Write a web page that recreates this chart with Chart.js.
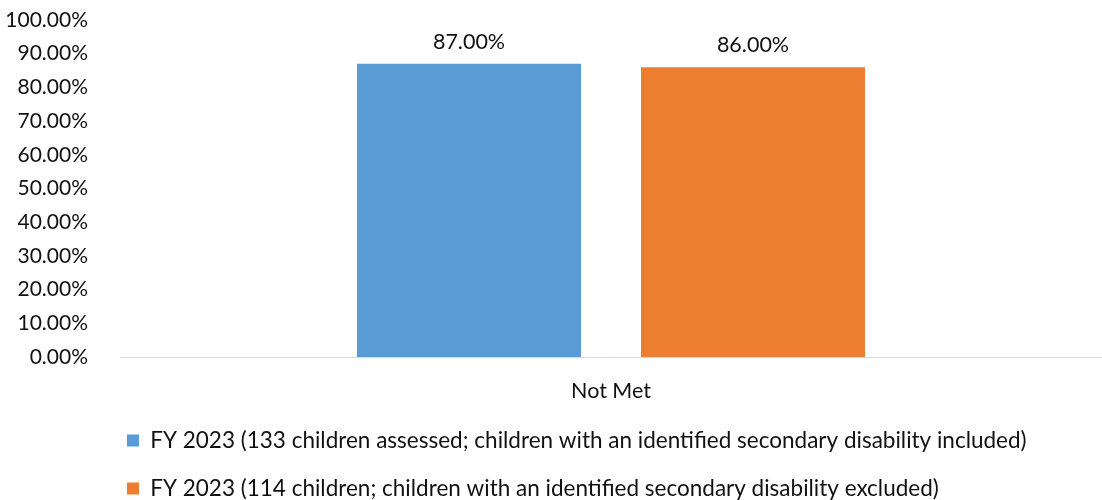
<!DOCTYPE html>
<html>
<head>
<meta charset="utf-8">
<script src="https://cdn.jsdelivr.net/npm/chart.js@4"></script>
<style>
  html, body { margin: 0; padding: 0; background: #fff; }
  #wrap { width: 1102px; height: 500px; }
</style>
</head>
<body>
<div id="wrap"><canvas id="c"></canvas></div>
<script>
const categories = ['Not Met'];
const seriesLabels = [
  'FY 2023 (133 children assessed; children with an identified secondary disability included)',
  'FY 2023 (114 children; children with an identified secondary disability excluded)'
];
const includedValues = [87];
const excludedValues = [86];
const seriesColors = ['#5B9BD5', '#ED7D31'];

const FONT = 'Lato, "Liberation Sans", sans-serif';
const TEXT = '#111';

// writes each bar's value above it
const valueLabels = {
  id: 'valueLabels',
  afterDatasetsDraw(chart) {
    const ctx = chart.ctx;
    ctx.save();
    ctx.font = '21.5px ' + FONT;
    ctx.fillStyle = TEXT;
    ctx.textAlign = 'center';
    ctx.textBaseline = 'middle';
    chart.data.datasets.forEach((ds, i) => {
      chart.getDatasetMeta(i).data.forEach((bar, j) => {
        ctx.fillText(ds.data[j].toFixed(2) + '%', bar.x, bar.y - 22);
      });
    });
    ctx.restore();
  }
};

// indents the legend rows so they start under the plot, and lifts them a little
const legendPlacement = {
  id: 'legendPlacement',
  afterUpdate(chart) {
    const lg = chart.legend;
    if (!lg) return;
    lg.left += 95.5;
    lg.top -= 21;
  }
};

new Chart(document.getElementById('c'), {
  type: 'bar',
  data: {
    labels: categories,
    datasets: [
      { label: seriesLabels[0], data: includedValues, backgroundColor: seriesColors[0] },
      { label: seriesLabels[1], data: excludedValues, backgroundColor: seriesColors[1] }
    ]
  },
  options: {
    responsive: true,
    maintainAspectRatio: false,
    animation: false,
    devicePixelRatio: 1,
    categoryPercentage: 0.5784,
    barPercentage: 0.7887,
    layout: { padding: { left: 6, top: 20, right: 0, bottom: -30.8 } },
    scales: {
      x: {
        grid: { display: false, drawTicks: false },
        border: { display: true, color: '#d9d9d9', width: 1 },
        ticks: { color: TEXT, font: { family: FONT, size: 21.5 }, padding: 21 }
      },
      y: {
        min: 0, max: 100,
        grid: { display: false, drawTicks: false },
        border: { display: false },
        ticks: {
          stepSize: 10,
          padding: 32,
          color: TEXT,
          font: { family: FONT, size: 21 },
          callback: v => v.toFixed(2) + '%'
        },
        afterFit(scale) {
          scale.width = 114;
          scale.paddingTop = 0;
          scale.paddingBottom = 0;
        }
      }
    },
    plugins: {
      tooltip: { enabled: false },
      legend: {
        position: 'bottom',
        align: 'start',
        labels: {
          boxWidth: 12, boxHeight: 12,
          padding: 25.5,
          color: TEXT,
          font: { family: FONT, size: 22.5 }
        }
      }
    }
  },
  plugins: [valueLabels, legendPlacement]
});
</script>
</body>
</html>
